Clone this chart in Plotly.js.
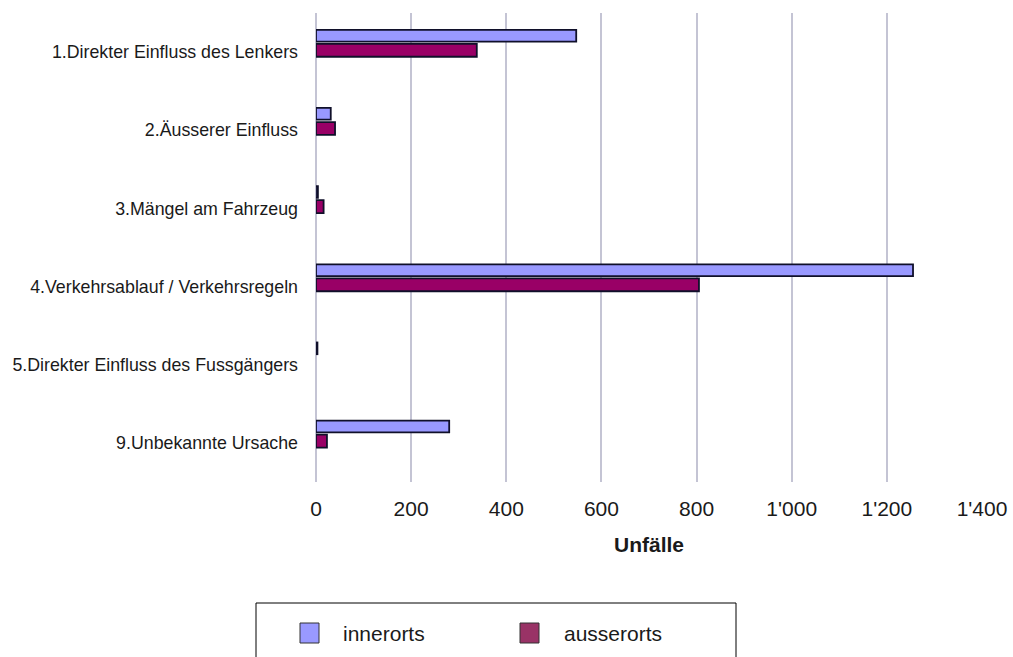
<!DOCTYPE html>
<html>
<head>
<meta charset="utf-8">
<script src="https://cdn.plot.ly/plotly-3.0.1.min.js"></script>
<style>html,body{margin:0;padding:0;background:#fff;}#chart{width:1013px;height:657px;}</style>
</head>
<body>
<div id="chart"></div>
<script>
const categories = [
  "1.Direkter Einfluss des Lenkers",
  "2.Äusserer Einfluss",
  "3.Mängel am Fahrzeug",
  "4.Verkehrsablauf / Verkehrsregeln",
  "5.Direkter Einfluss des Fussgängers",
  "9.Unbekannte Ursache"
];
const innerorts = [547, 31, 4, 1255, 3, 280];
const ausserorts = [338, 40, 16, 805, null, 23];
const tickValues = [0, 200, 400, 600, 800, 1000, 1200, 1400];
const tickLabels = ["0", "200", "400", "600", "800", "1'000", "1'200", "1'400"];
const seriesNames = ["innerorts", "ausserorts"];

const FONT = "Liberation Sans, Arial, sans-serif";
const edge = {color: "#10102a", width: 1.8};

const traces = [
  {type: "bar", orientation: "h", name: seriesNames[0], y: categories, x: innerorts,
   marker: {color: "#9999ff", line: edge}, offset: -0.285, width: 0.15, showlegend: false,
   hoverinfo: "x+name"},
  {type: "bar", orientation: "h", name: seriesNames[1], y: categories, x: ausserorts,
   marker: {color: "#990066", line: edge}, offset: -0.105, width: 0.165, showlegend: false,
   hoverinfo: "x+name"}
];

// legend drawn in paper coordinates (plot area: x 316..982, y 13..482)
const W = 666, H = 469;
const px = v => (v - 316) / W;
const py = v => (482 - v) / H;

const shapes = [
  {type: "rect", xref: "paper", yref: "paper", x0: px(256), x1: px(736), y0: py(603), y1: py(700),
   line: {color: "#000", width: 1}, fillcolor: "rgba(0,0,0,0)"},
  {type: "rect", xref: "paper", yref: "paper", x0: px(300), x1: px(319), y0: py(623), y1: py(643),
   line: {color: "#333", width: 1}, fillcolor: "#9999ff"},
  {type: "rect", xref: "paper", yref: "paper", x0: px(520), x1: px(539), y0: py(623), y1: py(643),
   line: {color: "#333", width: 1}, fillcolor: "#993366"}
];

const annotations = [
  {text: seriesNames[0], xref: "paper", yref: "paper", x: px(341), y: py(633), xanchor: "left", yanchor: "middle",
   showarrow: false, font: {family: FONT, size: 21, color: "#1a1a1a"}},
  {text: seriesNames[1], xref: "paper", yref: "paper", x: px(562), y: py(633), xanchor: "left", yanchor: "middle",
   showarrow: false, font: {family: FONT, size: 21, color: "#1a1a1a"}}
];

const layout = {
  width: 1013, height: 657,
  margin: {l: 316, r: 31, t: 13, b: 175},
  paper_bgcolor: "#ffffff", plot_bgcolor: "#ffffff",
  showlegend: false,
  barmode: "group",
  font: {family: FONT, color: "#1a1a1a"},
  xaxis: {
    range: [0, 1400], tickvals: tickValues, ticktext: tickLabels,
    showgrid: true, gridcolor: "#c4c4d4", gridwidth: 2,
    zeroline: true, zerolinecolor: "#c4c4d4", zerolinewidth: 2,
    showline: false, ticks: "", ticklabelstandoff: 12,
    tickfont: {family: FONT, size: 21, color: "#1a1a1a"},
    title: {text: "<b>Unfälle</b>", font: {family: FONT, size: 21, color: "#1a1a1a"}, standoff: 18},
    fixedrange: true
  },
  yaxis: {
    type: "category", categoryorder: "array", categoryarray: categories,
    autorange: "reversed", showgrid: false, zeroline: false, showline: false, ticks: "",
    ticklabelstandoff: 17,
    tickfont: {family: FONT, size: 17.8, color: "#1a1a1a"},
    fixedrange: true
  },
  shapes: shapes,
  annotations: annotations
};

Plotly.newPlot("chart", traces, layout, {displayModeBar: false, staticPlot: true});
</script>
</body>
</html>
